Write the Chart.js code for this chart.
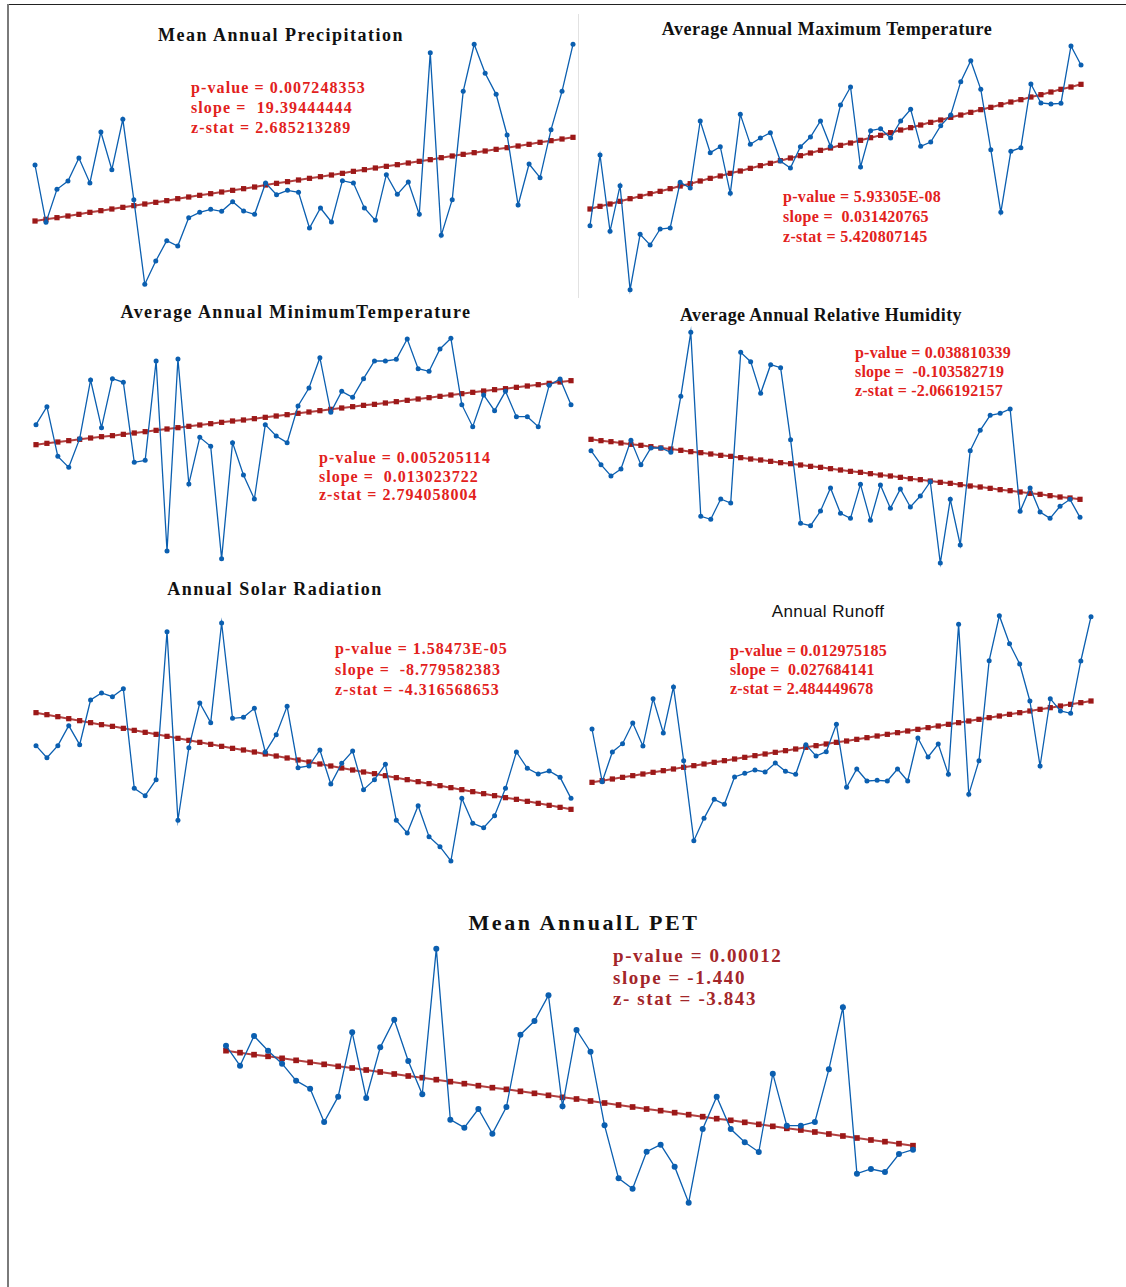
<!DOCTYPE html>
<html>
<head>
<meta charset="utf-8">
<script src="https://cdn.jsdelivr.net/npm/chart.js@4.4.1/dist/chart.umd.min.js"></script>
<style>
  body { margin: 0; background: #fff; }
  #page { position: relative; width: 1126px; height: 1287px; overflow: hidden; }
  canvas { position: absolute; }
  .frame-top { position: absolute; left: 7px; top: 4px; width: 1119px; height: 1px; background: #222; }
  .frame-left { position: absolute; left: 7px; top: 4px; width: 1.5px; height: 1283px; background: #7a7a7a; }
  .divider { position: absolute; left: 578px; top: 14px; width: 1px; height: 284px; background: #e2e2e2; }
  .title { position: absolute; white-space: nowrap; transform: translateX(-50%);
           font-family: "Liberation Serif", "Times New Roman", serif; font-weight: bold;
           font-size: 18px; line-height: 1; color: #111; }
  .title.sans { font-family: "Liberation Sans", Arial, sans-serif; font-weight: normal; font-size: 17px; }
  .stats { position: absolute; white-space: pre; font-family: "Liberation Serif", "Times New Roman", serif;
           font-weight: bold; font-size: 16px; color: #e2211c; }
</style>
</head>
<body>
<div id="page">
  <div class="frame-top"></div>
  <div class="frame-left"></div>
  <div class="divider"></div>

  <div class="title" style="left:281px; top:26px; letter-spacing:1.5px">Mean Annual Precipitation</div>
  <div class="title" style="left:827px; top:20px; letter-spacing:0.55px">Average Annual Maximum Temperature</div>
  <div class="title" style="left:296px; top:303px; letter-spacing:1.4px">Average Annual MinimumTemperature</div>
  <div class="title" style="left:821px; top:306px; letter-spacing:0.4px">Average Annual Relative Humidity</div>
  <div class="title" style="left:275px; top:580px; letter-spacing:1.5px">Annual Solar Radiation</div>
  <div class="title sans" style="left:828px; top:603px; letter-spacing:0.4px">Annual Runoff</div>
  <div class="title" style="left:584px; top:912px; font-size:22px; letter-spacing:2.6px">Mean AnnualL PET</div>

  <div class="stats" style="left:191px; top:78px; line-height:20px; letter-spacing:1.1px">p-value = 0.007248353
slope =  19.39444444
z-stat = 2.685213289</div>
  <div class="stats" style="left:783px; top:187px; line-height:20px; letter-spacing:0.3px">p-value = 5.93305E-08
slope =  0.031420765
z-stat = 5.420807145</div>
  <div class="stats" style="left:319px; top:449px; line-height:18.5px; letter-spacing:1.0px">p-value = 0.005205114
slope =  0.013023722
z-stat = 2.794058004</div>
  <div class="stats" style="left:855px; top:343px; line-height:19px; letter-spacing:0.2px">p-value = 0.038810339
slope =  -0.103582719
z-stat = -2.066192157</div>
  <div class="stats" style="left:335px; top:639px; line-height:20.5px; letter-spacing:1.0px">p-value = 1.58473E-05
slope =  -8.779582383
z-stat = -4.316568653</div>
  <div class="stats" style="left:730px; top:641px; line-height:19px; letter-spacing:0.25px">p-value = 0.012975185
slope =  0.027684141
z-stat = 2.484449678</div>
  <div class="stats" style="left:613px; top:945px; line-height:21.5px; font-size:19px; letter-spacing:1.6px; color:#a3262a">p-value = 0.00012
slope = -1.440
z- stat = -3.843</div>
</div>

<script>
// years on the x axis (50 annual values per series)
const years = [
  1970, 1971, 1972, 1973, 1974, 1975, 1976, 1977, 1978, 1979,
  1980, 1981, 1982, 1983, 1984, 1985, 1986, 1987, 1988, 1989,
  1990, 1991, 1992, 1993, 1994, 1995, 1996, 1997, 1998, 1999,
  2000, 2001, 2002, 2003, 2004, 2005, 2006, 2007, 2008, 2009,
  2010, 2011, 2012, 2013, 2014, 2015, 2016, 2017, 2018, 2019
];

// values (relative units, 0-900)
const precipValues = [495, 323, 422, 447, 516, 441, 594, 481, 632, 391, 137, 207, 268, 252, 337, 353, 362, 356, 385, 357,
  347, 441, 406, 419, 413, 306, 366, 324, 448, 441, 366, 329, 466, 407, 444, 347, 832, 284, 391, 716,
  857, 770, 707, 585, 375, 498, 457, 601, 716, 857];
const precipTrend = [327, 332, 337, 342, 347, 353, 358, 363, 368, 373, 378, 383, 388, 394, 399, 404, 409, 414, 419, 424,
  429, 435, 440, 445, 450, 455, 460, 465, 470, 476, 481, 486, 491, 496, 501, 506, 511, 517, 522, 527,
  532, 537, 542, 547, 552, 557, 563, 568, 573, 578];

const tmaxValues = [268, 480, 251, 388, 76, 242, 210, 258, 261, 398, 381, 582, 487, 505, 365, 602, 512, 531, 547, 462,
  441, 505, 534, 582, 506, 630, 684, 444, 553, 559, 531, 582, 617, 506, 519, 568, 600, 700, 763, 677,
  496, 308, 491, 502, 693, 636, 633, 635, 807, 750];
const tmaxTrend = [318, 326, 333, 341, 349, 356, 364, 371, 379, 387, 394, 402, 410, 417, 425, 432, 440, 448, 455, 463,
  471, 478, 486, 494, 501, 509, 516, 524, 532, 539, 547, 555, 562, 570, 578, 585, 593, 600, 608, 616,
  623, 631, 639, 646, 654, 661, 669, 677, 684, 692];

const tminValues = [526, 580, 431, 398, 484, 660, 517, 664, 653, 413, 419, 717, 147, 723, 348, 488, 461, 124, 472, 375,
  303, 526, 492, 472, 582, 636, 727, 563, 626, 608, 664, 717, 717, 722, 783, 694, 686, 753, 785, 586,
  520, 615, 568, 626, 550, 550, 520, 644, 663, 586];
const tminTrend = [466, 470, 474, 478, 482, 486, 490, 493, 497, 501, 505, 509, 513, 517, 521, 525, 529, 533, 537, 540,
  544, 548, 552, 556, 560, 564, 568, 572, 576, 580, 584, 587, 591, 595, 599, 603, 607, 611, 615, 619,
  623, 627, 631, 634, 638, 642, 646, 650, 654, 658];

const rhValues = [448, 406, 372, 393, 479, 406, 456, 456, 443, 611, 803, 251, 242, 303, 291, 743, 715, 620, 706, 697,
  481, 230, 223, 267, 336, 260, 245, 347, 239, 345, 275, 333, 279, 312, 355, 111, 302, 165, 448, 509,
  554, 560, 573, 266, 336, 264, 245, 281, 302, 248];
const rhTrend = [482, 478, 475, 471, 467, 464, 460, 456, 453, 449, 445, 442, 438, 434, 431, 427, 423, 420, 416, 412,
  409, 405, 401, 398, 394, 390, 386, 383, 379, 375, 372, 368, 364, 361, 357, 353, 350, 346, 342, 339,
  335, 331, 328, 324, 320, 317, 313, 309, 306, 302];

const solarValues = [388, 352, 388, 448, 391, 525, 546, 535, 559, 260, 238, 286, 730, 164, 382, 516, 457, 756, 470, 473,
  500, 369, 421, 506, 322, 327, 375, 273, 335, 372, 256, 286, 332, 164, 126, 208, 115, 85, 42, 230,
  155, 142, 178, 260, 369, 320, 303, 312, 293, 230];
const solarTrend = [487, 481, 475, 469, 463, 457, 451, 446, 440, 434, 428, 422, 416, 410, 404, 398, 392, 386, 380, 375,
  369, 363, 357, 351, 345, 339, 333, 327, 321, 315, 309, 304, 298, 292, 286, 280, 274, 268, 262, 256,
  250, 244, 238, 232, 227, 221, 215, 209, 203, 197];

const runoffValues = [498, 340, 429, 454, 516, 447, 589, 486, 624, 403, 163, 230, 287, 272, 354, 365, 375, 369, 396, 371,
  362, 451, 417, 430, 512, 323, 378, 342, 344, 342, 378, 342, 471, 414, 453, 362, 812, 302, 403, 703,
  838, 754, 693, 582, 387, 589, 552, 545, 702, 835];
const runoffTrend = [338, 343, 348, 353, 358, 363, 368, 373, 378, 383, 388, 393, 398, 403, 408, 413, 418, 423, 428, 433,
  438, 443, 448, 453, 458, 462, 467, 472, 477, 482, 487, 492, 497, 502, 507, 512, 517, 522, 527, 532,
  537, 542, 547, 552, 557, 562, 567, 572, 577, 582];

const petValues = [478, 418, 507, 463, 424, 373, 349, 249, 325, 518, 321, 473, 556, 432, 332, 769, 256, 232, 288, 214,
  294, 511, 552, 629, 296, 525, 460, 239, 80, 49, 160, 181, 115, 7, 228, 325, 228, 188, 159, 394,
  238, 238, 249, 407, 593, 94, 108, 99, 153, 166];
const petTrend = [463, 457, 451, 446, 440, 434, 428, 422, 416, 411, 405, 399, 393, 387, 382, 376, 370, 364, 358, 352,
  347, 341, 335, 329, 323, 318, 312, 306, 300, 294, 288, 283, 277, 271, 265, 259, 254, 248, 242, 236,
  230, 225, 219, 213, 207, 201, 195, 190, 184, 178];

// plot area of each panel on the page
const panels = [
  { values: precipValues, trend: precipTrend, x: 35, y: 30, w: 538 },
  { values: tmaxValues, trend: tmaxTrend, x: 589.7, y: 15, w: 491 },
  { values: tminValues, trend: tminTrend, x: 35.5, y: 300, w: 535 },
  { values: rhValues, trend: rhTrend, x: 591.3, y: 300, w: 489 },
  { values: solarValues, trend: solarTrend, x: 35.5, y: 575, w: 535 },
  { values: runoffValues, trend: runoffTrend, x: 592, y: 595, w: 499 },
  { values: petValues, trend: petTrend, x: 225.5, y: 905, w: 687, big: true }
];

const BLUE = '#0b5fb0';
const DARKRED = '#9c1818';
const PAD = 8;

const page = document.getElementById('page');

panels.forEach(p => {
  const cv = document.createElement('canvas');
  cv.width = p.w + 2 * PAD;
  cv.height = 300 + 2 * PAD;
  cv.style.left = (p.x - PAD) + 'px';
  cv.style.top = (p.y - PAD) + 'px';
  page.appendChild(cv);

  new Chart(cv.getContext('2d'), {
    type: 'line',
    data: {
      labels: years,
      datasets: [
        {
          data: p.values,
          borderColor: BLUE,
          backgroundColor: BLUE,
          borderWidth: 1.3,
          pointRadius: p.big ? 3 : 2.5,
          pointBorderWidth: 0,
          tension: 0,
          clip: false,
        },
        {
          data: p.trend,
          borderColor: 'rgba(165, 30, 30, 0.85)',
          borderWidth: 2,
          pointStyle: 'rect',
          pointRadius: p.big ? 4 : 3.7,
          pointBackgroundColor: DARKRED,
          pointBorderWidth: 0,
          tension: 0,
          clip: false,
        },
      ],
    },
    options: {
      responsive: false,
      animation: false,
      events: [],
      layout: { padding: PAD },
      plugins: { legend: { display: false }, tooltip: { enabled: false }, title: { display: false } },
      scales: {
        x: { display: false, offset: false },
        y: { display: false, min: 0, max: 900 },
      },
    },
  });
});
</script>
</body>
</html>
